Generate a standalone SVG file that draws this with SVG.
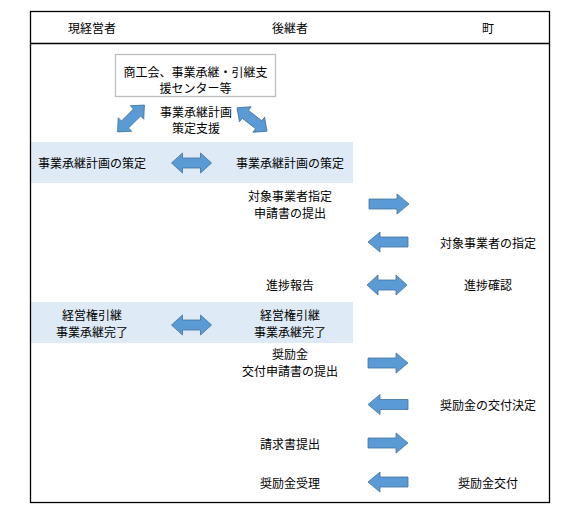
<svg xmlns="http://www.w3.org/2000/svg" width="585" height="511" viewBox="0 0 585 511">
<defs>
<style>
.t{font-family:"Noto Sans CJK JP","Noto Sans CJK SC",sans-serif;font-size:12px;fill:#000;text-anchor:middle;dominant-baseline:central}
.ar{fill:#5B9BD5;stroke:#41719C;stroke-width:0.8}
.band{fill:#DEEBF7}
</style>
<path id="dbl" d="M-20,0 L-9,-10 L-9,-5 L9,-5 L9,-10 L20,0 L9,10 L9,5 L-9,5 L-9,10 Z"/>
<path id="dblS" d="M-19,0 L-8.5,-9.5 L-8.5,-5 L8.5,-5 L8.5,-9.5 L19,0 L8.5,9.5 L8.5,5 L-8.5,5 L-8.5,9.5 Z"/>
<path id="rt" d="M-20,-5 L8,-5 L8,-10 L20,0 L8,10 L8,5 L-20,5 Z"/>
<path id="lt" d="M20,-5 L-8,-5 L-8,-10 L-20,0 L-8,10 L-8,5 L20,5 Z"/>
</defs>
<rect x="0" y="0" width="585" height="511" fill="#fff"/>
<g id="bands">
<rect class="band" x="30.5" y="142" width="322.5" height="41"/>
<rect class="band" x="30.5" y="302" width="322.5" height="41"/>
</g>
<g id="frame" fill="none" stroke="#000" stroke-width="1.3">
<rect x="30.5" y="11.5" width="519" height="491"/>
<line x1="30.5" y1="43.5" x2="549.5" y2="43.5"/>
</g>
<g id="headers">
<text class="t" x="92" y="27">現経営者</text>
<text class="t" x="290" y="27">後継者</text>
<text class="t" x="488" y="27">町</text>
</g>
<g id="support-center">
<rect x="115.5" y="54.5" width="160" height="42" fill="#fff" stroke="#BFBFBF" stroke-width="1.3"/>
<text class="t" x="195.5" y="71">商工会、事業承継・引継支</text>
<text class="t" x="195.5" y="87">援センター等</text>
</g>
<g id="support-label">
<text class="t" x="196" y="111">事業承継計画</text>
<text class="t" x="196" y="127">策定支援</text>
</g>
<g id="plan-left"><text class="t" x="92" y="162.5">事業承継計画の策定</text></g>
<g id="plan-right"><text class="t" x="290" y="162.5">事業承継計画の策定</text></g>
<g id="apply"><text class="t" x="290" y="195">対象事業者指定</text><text class="t" x="290" y="212">申請書の提出</text></g>
<g id="designate"><text class="t" x="488" y="242">対象事業者の指定</text></g>
<g id="report"><text class="t" x="290" y="284">進捗報告</text></g>
<g id="confirm"><text class="t" x="488" y="284">進捗確認</text></g>
<g id="handover-left"><text class="t" x="92" y="314">経営権引継</text><text class="t" x="92" y="331">事業承継完了</text></g>
<g id="handover-right"><text class="t" x="290" y="314">経営権引継</text><text class="t" x="290" y="331">事業承継完了</text></g>
<g id="grant-apply"><text class="t" x="290" y="353">奨励金</text><text class="t" x="290" y="370">交付申請書の提出</text></g>
<g id="grant-decision"><text class="t" x="488" y="404">奨励金の交付決定</text></g>
<g id="invoice"><text class="t" x="290" y="443">請求書提出</text></g>
<g id="receive"><text class="t" x="290" y="482">奨励金受理</text></g>
<g id="payment"><text class="t" x="488" y="482">奨励金交付</text></g>
<g id="connectors">
<use href="#dblS" class="ar" transform="translate(131,118.5) rotate(-45)"/>
<use href="#dblS" class="ar" transform="translate(252,119.5) rotate(38)"/>
<use href="#dbl" class="ar" transform="translate(191.5,163)"/>
<use href="#rt" class="ar" transform="translate(389,204)"/>
<use href="#lt" class="ar" transform="translate(388,242)"/>
<use href="#dbl" class="ar" transform="translate(387,285)"/>
<use href="#dbl" class="ar" transform="translate(191.5,325)"/>
<use href="#rt" class="ar" transform="translate(388,363)"/>
<use href="#lt" class="ar" transform="translate(388,404.5)"/>
<use href="#rt" class="ar" transform="translate(388,443)"/>
<use href="#lt" class="ar" transform="translate(388,482)"/>
</g>
</svg>
